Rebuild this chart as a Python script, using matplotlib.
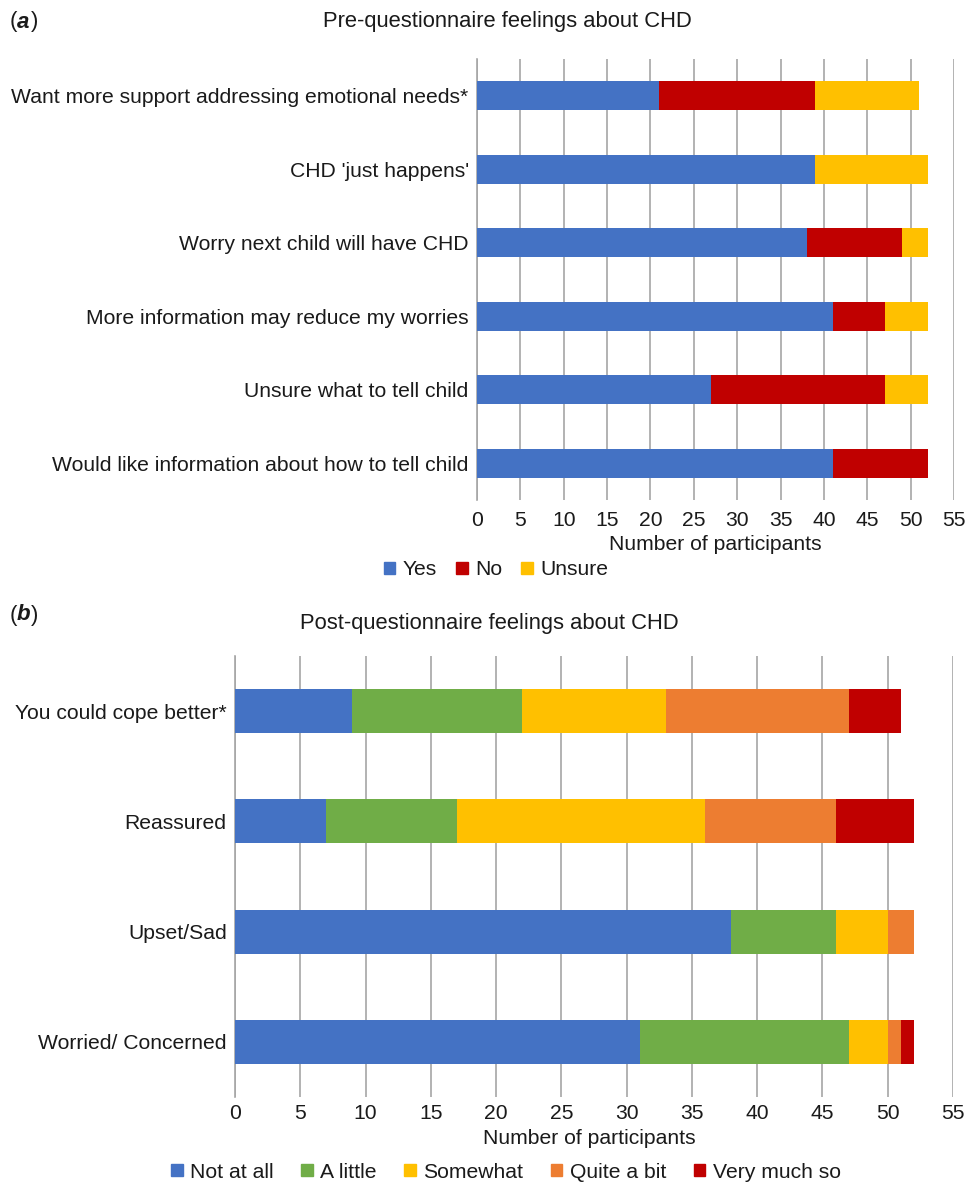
import matplotlib.pyplot as plt
from matplotlib.patches import Patch

plt.rcParams['font.family'] = ['Liberation Sans', 'DejaVu Sans']
plt.rcParams['text.color'] = '#1a1a1a'

W, H = 967, 1184

# (a) pre-questionnaire
pre_items = ['Want more support addressing emotional needs*',
             "CHD 'just happens'",
             'Worry next child will have CHD',
             'More information may reduce my worries',
             'Unsure what to tell child',
             'Would like information about how to tell child']
pre_yes = [21, 39, 38, 41, 27, 41]
pre_no = [18, 0, 11, 6, 20, 11]
pre_unsure = [12, 13, 3, 5, 5, 0]
pre_names = ['Yes', 'No', 'Unsure']

# (b) post-questionnaire
post_items = ['You could cope better*', 'Reassured', 'Upset/Sad', 'Worried/ Concerned']
post_not_at_all = [9, 7, 38, 31]
post_a_little = [13, 10, 8, 16]
post_somewhat = [11, 19, 4, 3]
post_quite_a_bit = [14, 10, 2, 1]
post_very_much = [4, 6, 0, 1]
post_names = ['Not at all', 'A little', 'Somewhat', 'Quite a bit', 'Very much so']

pre_cols = ['#4472C4', '#C00000', '#FFC000']
post_cols = ['#4472C4', '#70AD47', '#FFC000', '#ED7D31', '#C00000']

FS = 15.2


def px_box(left, top, right, bottom):
    return [left / W, 1 - bottom / H, (right - left) / W, (bottom - top) / H]


def stacked(ax, items, series, cols, pad):
    y = list(range(len(items)))
    left = [0] * len(items)
    for vals, c in zip(series, cols):
        ax.barh(y, vals, left=left, height=0.4, color=c, zorder=3)
        left = [l + v for l, v in zip(left, vals)]
    ax.set_ylim(len(items) - 0.5, -0.5)
    ax.set_xlim(0, 55)
    ax.set_xticks(range(0, 56, 5))
    ax.set_yticks(y)
    ax.set_yticklabels(items)
    ax.grid(axis='x', color='#A6A6A6', lw=1.2, zorder=0)
    for s in ['top', 'right', 'bottom']:
        ax.spines[s].set_visible(False)
    ax.spines['left'].set_color('#A6A6A6')
    ax.spines['left'].set_linewidth(1.2)
    ax.tick_params(axis='both', length=0, labelsize=FS, colors='#1a1a1a')
    ax.tick_params(axis='x', pad=pad)
    ax.tick_params(axis='y', pad=6)


def panel_tag(x, y, letter):
    fig.text(x / W, 1 - y / H, '(', fontsize=16, va='center', ha='left')
    fig.text((x + 7) / W, 1 - y / H, letter, fontsize=16, va='center', ha='left',
             fontweight='bold', fontstyle='italic')
    fig.text((x + 21) / W, 1 - y / H, ')', fontsize=16, va='center', ha='left')


fig = plt.figure(figsize=(W / 100, H / 100), dpi=100)

ax1 = fig.add_axes(px_box(477, 59, 954, 500))
stacked(ax1, pre_items, [pre_yes, pre_no, pre_unsure], pre_cols, pad=8)

ax2 = fig.add_axes(px_box(235, 656, 953, 1097))
stacked(ax2, post_items, [post_not_at_all, post_a_little, post_somewhat,
                          post_quite_a_bit, post_very_much], post_cols, pad=5)

# titles, axis labels and tags
fig.text(507 / W, 1 - 22 / H, 'Pre-questionnaire feelings about CHD', fontsize=FS + 0.6, ha='center', va='center')
fig.text(489 / W, 1 - 623 / H, 'Post-questionnaire feelings about CHD', fontsize=FS + 0.6, ha='center', va='center')
fig.text(715 / W, 1 - 544 / H, 'Number of participants', fontsize=FS, ha='center', va='center')
fig.text(589 / W, 1 - 1138 / H, 'Number of participants', fontsize=FS, ha='center', va='center')
panel_tag(10, 22, 'a')
panel_tag(10, 615, 'b')

# legends
h1 = [Patch(color=c, label=n) for c, n in zip(pre_cols, pre_names)]
fig.legend(handles=h1, loc='center', bbox_to_anchor=(496 / W, 1 - 570 / H), ncol=3,
           frameon=False, fontsize=FS, handlelength=0.55, handleheight=0.55,
           handletextpad=0.35, columnspacing=0.9)
h2 = [Patch(color=c, label=n) for c, n in zip(post_cols, post_names)]
fig.legend(handles=h2, loc='center', bbox_to_anchor=(506 / W, 1 - 1172 / H), ncol=5,
           frameon=False, fontsize=FS, handlelength=0.55, handleheight=0.55,
           handletextpad=0.35, columnspacing=1.3)

fig.savefig('out.png', dpi=100)
